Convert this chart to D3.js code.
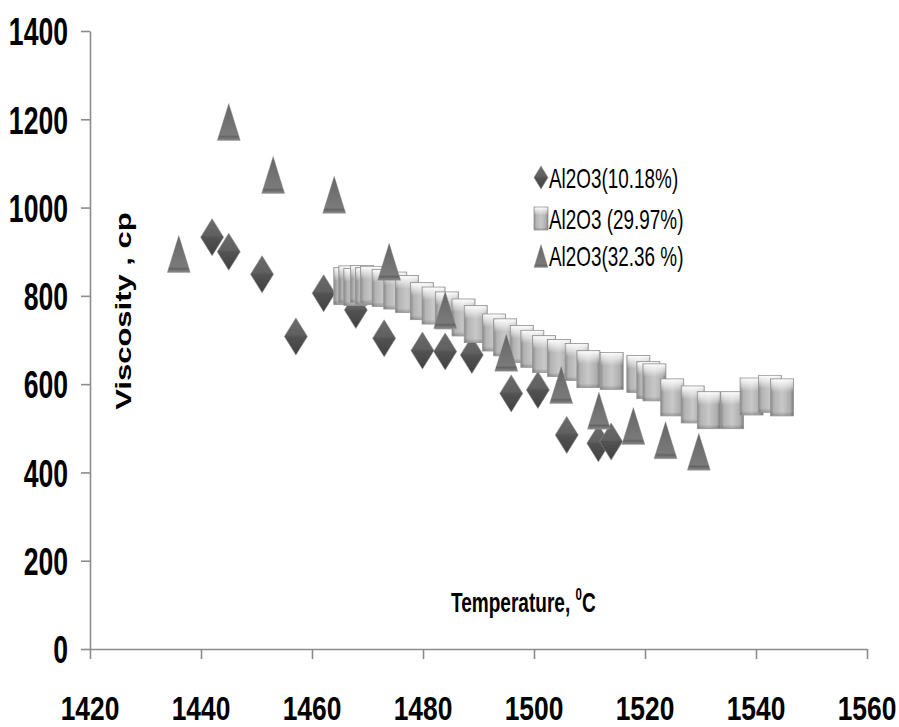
<!DOCTYPE html>
<html>
<head>
<meta charset="utf-8">
<script src="https://cdn.jsdelivr.net/npm/d3@7"></script>
<style>
html,body{margin:0;padding:0;background:#fff;}
svg{display:block;}
text{font-family:"Liberation Sans",Arial,sans-serif;}
</style>
</head>
<body>
<svg id="chart" width="899" height="727"></svg>
<script>
// ---- data ----
const tempTicks = [1420, 1440, 1460, 1480, 1500, 1520, 1540, 1560];
const viscTicks = [0, 200, 400, 600, 800, 1000, 1200, 1400];
const seriesNames = ["Al2O3(10.18%)", "Al2O3 (29.97%)", "Al2O3(32.36 %)"];

const diamondTemp = [1442.0, 1445.0, 1451.0, 1457.1, 1462.1, 1467.9, 1473.0, 1479.9, 1484.0, 1488.8, 1495.9, 1500.7, 1505.9, 1511.6, 1513.9];
const diamondVisc = [933, 900, 849, 708, 806, 768, 704, 676, 674, 666, 579, 587, 485, 466, 470];

const squareTemp = [1466.0, 1466.9, 1467.8, 1469.0, 1469.9, 1470.8, 1472.9, 1475.0, 1477.1, 1479.8, 1481.9, 1484.3, 1487.3, 1489.5, 1492.8, 1494.8, 1497.8, 1499.7, 1501.8, 1504.5, 1507.7, 1509.8, 1514.0, 1518.8, 1520.6, 1521.7, 1524.9, 1528.6, 1531.5, 1535.7, 1539.2, 1542.5, 1544.7];
const squareVisc = [822, 826, 820, 827, 822, 825, 818, 812, 804, 788, 778, 767, 751, 736, 717, 706, 691, 680, 668, 659, 650, 634, 630, 623, 609, 604, 570, 554, 541, 541, 572, 578, 570];

const triangleTemp = [1436.0, 1445.0, 1453.0, 1464.0, 1473.9, 1484.0, 1495.0, 1504.9, 1511.7, 1517.9, 1523.7, 1529.7];
const triangleVisc = [895, 1194, 1074, 1029, 877, 768, 671, 598, 540, 505, 473, 447];

const xTitle = "Temperature, ";
const xTitleSup = "0";
const xTitleUnit = "C";
const yTitle = "Viscosity , cp";

// ---- layout ----
const SX = 0.7; // horizontal squeeze of text
const svg = d3.select("#chart");
const x = d3.scaleLinear().domain([1420, 1560]).range([90, 867]);
const y = d3.scaleLinear().domain([0, 1400]).range([649, 31]);

// gradients
const defs = svg.append("defs");
function lin(id, x2, y2, stops) {
  const g = defs.append("linearGradient").attr("id", id)
    .attr("x1", 0).attr("y1", 0).attr("x2", x2).attr("y2", y2);
  stops.forEach(s => g.append("stop").attr("offset", s[0]).attr("stop-color", s[1]).attr("stop-opacity", s[2] == null ? 1 : s[2]));
}
lin("gDia", 0, 1, [[0, "#6c6c6c"], [0.45, "#606060"], [0.52, "#525252"], [1, "#404040"]]);
lin("gTri", 0, 1, [[0, "#666"], [0.85, "#7a7a7a"], [0.9, "#636363"], [1, "#8c8c8c"]]);
lin("gSqH", 1, 0, [[0, "#8a8a8a"], [0.15, "#b4b4b4"], [0.5, "#c8c8c8"], [0.85, "#aeaeae"], [1, "#7c7c7c"]]);
lin("gSqV", 0, 1, [[0, "#ffffff", 0.95], [0.18, "#ffffff", 0.5], [0.35, "#ffffff", 0], [0.9, "#000", 0], [1, "#000", 0.18]]);

// axes
const axisColor = "#8c8c8c";
const yAxis = svg.append("g").attr("transform", "translate(90,0)")
  .call(d3.axisLeft(y).tickValues(viscTicks).tickSize(9).tickSizeOuter(0).tickFormat(""));
const xAxis = svg.append("g").attr("transform", "translate(0,649)")
  .call(d3.axisBottom(x).tickValues(tempTicks).tickSize(10).tickSizeOuter(0).tickFormat(""));
[yAxis, xAxis].forEach(a => {
  a.select(".domain").attr("stroke", axisColor).attr("stroke-width", 1.6);
  a.selectAll(".tick line").attr("stroke", axisColor).attr("stroke-width", 1.6);
});

function sqText(parent, px, py, str, size, weight, anchor, sx, baseline) {
  const g = parent.append("g").attr("transform", `translate(${px},${py}) scale(${sx},1)`);
  const t = g.append("text").attr("text-anchor", anchor).attr("font-size", size)
    .attr("font-weight", weight).attr("fill", "#000").text(str);
  if (baseline) t.attr("dominant-baseline", baseline);
  return t;
}

// tick labels
const labels = svg.append("g");
viscTicks.forEach(v => sqText(labels, 68, y(v) + 1, d3.format("d")(v), 38, "bold", "end", SX, "central"));
tempTicks.forEach(t => sqText(labels, x(t), 720, d3.format("d")(t), 33, "bold", "middle", 0.8, null));

// axis titles
const xt = svg.append("g").attr("transform", `translate(451,612) scale(0.68,1)`)
  .append("text").attr("font-size", 28).attr("font-weight", "bold").attr("text-anchor", "start");
xt.append("tspan").text(xTitle);
xt.append("tspan").attr("font-size", 17).attr("dy", -12).text(xTitleSup);
xt.append("tspan").attr("dy", 12).text(xTitleUnit);

svg.append("g").attr("transform", `translate(124,311) scale(${SX},1) rotate(-90)`)
  .append("text").attr("font-size", 31).attr("font-weight", "bold").attr("text-anchor", "middle")
  .attr("dominant-baseline", "central").text(yTitle);

// marker shapes
function diamondPath(w, h) { return `M0,${-h/2}L${w/2},0L0,${h/2}L${-w/2},0Z`; }
function trianglePath(w, h) { return `M0,${-h/2}L${w/2},${h/2}L${-w/2},${h/2}Z`; }

function drawDiamond(g, w, h) {
  g.append("path").attr("d", diamondPath(w, h)).attr("fill", "url(#gDia)")
    .attr("stroke", "#8a8a8a").attr("stroke-width", 0.8).attr("stroke-opacity", 0.7);
}
function drawSquare(g, w, h) {
  g.append("rect").attr("x", -w/2).attr("y", -h/2).attr("width", w).attr("height", h)
    .attr("fill", "url(#gSqH)").attr("stroke", "#949494").attr("stroke-width", 0.8);
  g.append("rect").attr("x", -w/2 + 0.5).attr("y", -h/2 + 0.5).attr("width", w - 1).attr("height", h - 1)
    .attr("fill", "url(#gSqV)");
}
function drawTriangle(g, w, h) {
  g.append("path").attr("d", trianglePath(w, h)).attr("fill", "url(#gTri)")
    .attr("stroke", "#8a8a8a").attr("stroke-width", 0.6).attr("stroke-opacity", 0.6);
}

const MW = 23, MH = 37;
const plot = svg.append("g");
function series(T, V, drawFn) {
  const data = T.map((t, i) => ({t, v: V[i]}));
  plot.append("g").selectAll("g").data(data).join("g")
    .attr("transform", d => `translate(${x(d.t)},${y(d.v)})`)
    .each(function() { drawFn(d3.select(this), MW, MH); });
}
series(diamondTemp, diamondVisc, drawDiamond);
series(squareTemp, squareVisc, drawSquare);
series(triangleTemp, triangleVisc, drawTriangle);

// legend
const legend = svg.append("g");
const legRows = [177.5, 218.5, 256];
const legFns = [drawDiamond, drawSquare, drawTriangle];
seriesNames.forEach((name, i) => {
  const g = legend.append("g").attr("transform", `translate(541,${legRows[i]})`);
  legFns[i](g, 14, 23);
  sqText(legend, 549, legRows[i] + 1, name, 27, "normal", "start", SX, "central");
});
</script>
</body>
</html>
